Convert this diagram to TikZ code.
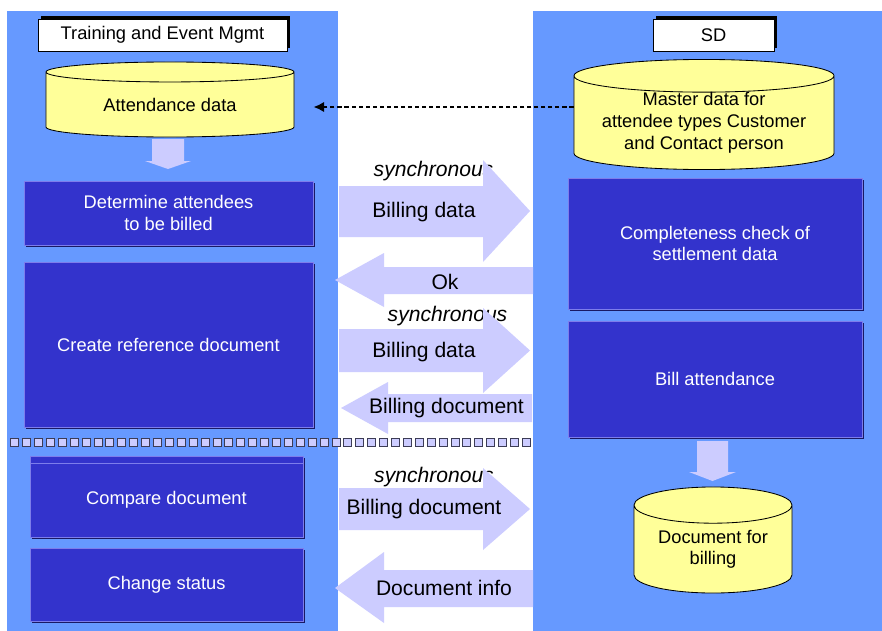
\documentclass[tikz,border=0pt]{standalone}
\usepackage{fontspec}
\setmainfont{Liberation Sans}
\usetikzlibrary{shapes.geometric,shadows,arrows.meta}

\definecolor{panelblue}{RGB}{102,153,255}
\definecolor{procblue}{RGB}{51,51,204}
\definecolor{procedge}{RGB}{125,125,235}
\definecolor{procshade}{RGB}{25,25,100}
\definecolor{dbyellow}{RGB}{255,255,153}
\definecolor{flowlav}{RGB}{204,204,255}
\definecolor{sepedge}{RGB}{60,60,85}

\newcommand{\boxfont}{\fontsize{13}{15.5}\selectfont}
\newcommand{\flowfont}{\fontsize{15}{18}\selectfont}

\begin{document}
\begin{tikzpicture}[x=0.025cm, y=-0.025cm,
    panel/.style={fill=panelblue},
    titlebox/.style={rectangle, fill=white, draw=black, line width=0.6pt, font=\boxfont, inner sep=0pt,
        minimum height=0.8cm, drop shadow={shadow xshift=2pt, shadow yshift=2pt, fill=black, opacity=1}},
    procbox/.style={rectangle, fill=procblue, draw=procedge, line width=0.5pt, text=white, font=\boxfont,
        align=center, inner sep=0pt, drop shadow={shadow xshift=1.3pt, shadow yshift=-1.3pt, fill=procshade, opacity=1}},
    dbstore/.style={cylinder, shape border rotate=90, draw=black, line width=0.6pt, cylinder uses custom fill,
        cylinder body fill=dbyellow, cylinder end fill=dbyellow, font=\boxfont, align=center, inner sep=0pt},
    flow/.style={fill=flowlav},
    flowlabel/.style={font=\flowfont, inner sep=0pt},
    syncnote/.style={font=\flowfont\itshape, inner sep=0pt},
    sepsq/.style={fill=flowlav, draw=sepedge, line width=0.6pt},
    dotflow/.style={line width=2.1pt, dash pattern=on 2.9pt off 2.1pt, -{Latex[length=7.5pt,width=7.5pt]}}
]

    \useasboundingbox (0,0) rectangle (882,631);
    \fill[white] (0,0) rectangle (882,631);

    % Two system lanes
    \fill[panel] (7,11) rectangle (338,631);
    \fill[panel] (533,11) rectangle (882,631);

    % Lane titles
    \node[titlebox, minimum width=6.225cm] (tem) at (162.5,35) {Training and Event Mgmt};
    \node[titlebox, minimum width=3.025cm] (sd) at (713.5,35) {SD};

    % Data stores
    \node[dbstore, minimum width=6.2cm, minimum height=1.875cm, aspect=0.15, anchor=shape center] (attend) at (170,99.5) {Attendance data};
    \node[dbstore, minimum width=6.5cm, minimum height=2.425cm, aspect=0.16, anchor=shape center] (master) at (704,114.5)
        {Master data for\\attendee types Customer\\and Contact person};
    \node[dbstore, minimum width=3.95cm, minimum height=2.65cm, aspect=0.33, anchor=shape center] (docbill) at (713,540)
        {Document for\\billing};

    \draw[dotflow, shorten >=0.475cm] (master.west |- 0,107) -- (attend.east |- 0,107);

    % Down arrows
    \fill[flow] (152,139) -- (184,139) -- (184,161) -- (191,161) -- (168,169) -- (145,161) -- (152,161) -- cycle;
    \fill[flow] (697,441) -- (728,441) -- (728,472) -- (736,472) -- (712.5,481) -- (689,472) -- (697,472) -- cycle;

    % Steps in Training and Event Mgmt
    \node[procbox, minimum width=7.225cm, minimum height=1.6cm] (det) at (168.5,213) {Determine attendees\\to be billed};
    \node[procbox, minimum width=7.225cm, minimum height=4.125cm] (ref) at (168.5,344.5) {Create reference document};
    \filldraw[fill=procblue, draw=procedge, line width=0.5pt, drop shadow={shadow xshift=1.3pt, shadow yshift=-1.3pt, fill=procshade, opacity=1}]
        (30,456) rectangle (303,463);
    \node[procbox, minimum width=6.825cm, minimum height=1.85cm] (cmp) at (166.5,500) {Compare document};
    \node[procbox, minimum width=6.825cm, minimum height=1.825cm] (chg) at (166.5,584.5) {Change status};

    % Steps in SD
    \node[procbox, minimum width=7.35cm, minimum height=3.275cm] (chk) at (715,243.5) {Completeness check of\\settlement data};
    \node[procbox, minimum width=7.35cm, minimum height=2.9cm] (bill) at (715,379) {Bill attendance};

    % Separator
    \foreach \i in {0,...,43}
        \filldraw[sepsq] ({10.7+11.9*\i},438) rectangle +(8,8);

    % Interface notes (under the arrow heads)
    \node[syncnote] (sync1) at (433.5,171) {synchronous};
    \node[syncnote] (sync2) at (447.5,316) {synchronous};
    \node[syncnote] (sync3) at (434,477) {synchronous};

    % Interface arrows
    \fill[flow] (339,186) -- (483,186) -- (483,160) -- (530,211) -- (483,262) -- (483,237) -- (339,237) -- cycle;
    \fill[flow] (533,267) -- (384,267) -- (384,253) -- (335,280) -- (384,307) -- (384,294) -- (533,294) -- cycle;
    \fill[flow] (339,329) -- (483,329) -- (483,308) -- (530,350.5) -- (483,393) -- (483,372) -- (339,372) -- cycle;
    \fill[flow] (532,394) -- (388,394) -- (388,382) -- (341,408) -- (388,434) -- (388,422) -- (532,422) -- cycle;
    \fill[flow] (339,488) -- (483,488) -- (483,468) -- (530,509) -- (483,550) -- (483,530) -- (339,530) -- cycle;
    \fill[flow] (533,570) -- (384,570) -- (384,552) -- (335,588) -- (384,623) -- (384,607) -- (533,607) -- cycle;

    \node[flowlabel] (bdata1) at (424,212) {Billing data};
    \node[flowlabel] (ok) at (445,282) {Ok};
    \node[flowlabel] (bdata2) at (424,352) {Billing data};
    \node[flowlabel] (bdoc1) at (446.5,408) {Billing document};
    \node[flowlabel] (bdoc2) at (424,509) {Billing document};
    \node[flowlabel] (docinfo) at (444,588) {Document info};

\end{tikzpicture}
\end{document}
